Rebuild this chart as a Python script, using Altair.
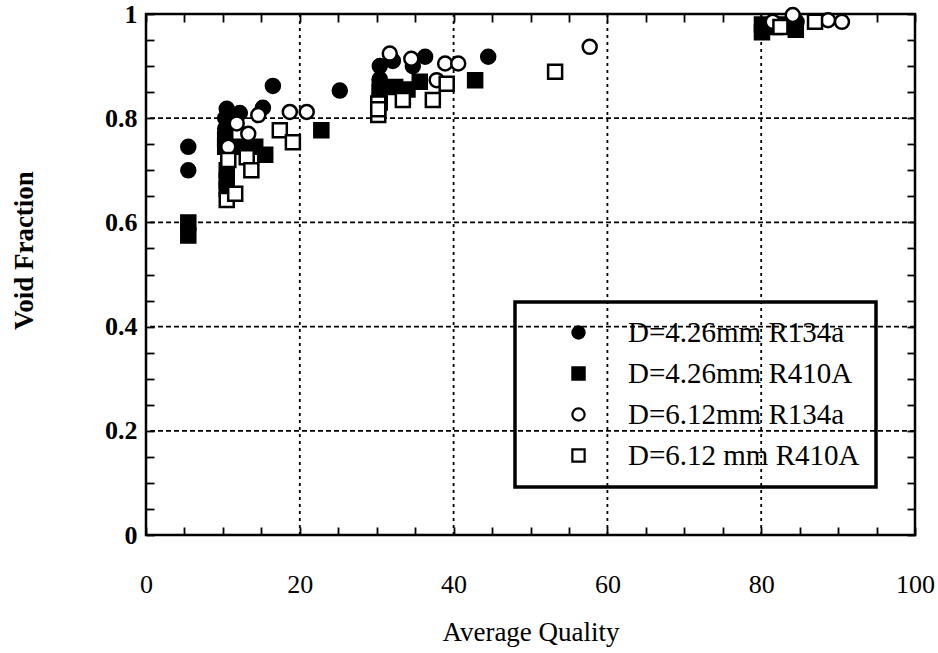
import altair as alt
import pandas as pd

labels = ["D=4.26mm R134a", "D=4.26mm R410A", "D=6.12mm R134a", "D=6.12 mm R410A"]

# D=4.26mm R134a (filled circles)
q1 = [5.5, 5.5, 10.5, 10.3, 10.3, 12.2, 15.2, 16.5, 25.2, 30.4, 30.4, 32.1, 34.7, 36.3, 44.5, 80.5, 82.0, 84.4, 84.6]
v1 = [0.745, 0.700, 0.818, 0.800, 0.780, 0.810, 0.820, 0.862, 0.853, 0.900, 0.875, 0.910, 0.900, 0.918, 0.918, 0.975, 0.980, 0.975, 0.985]
# D=4.26mm R410A (filled squares)
q2 = [5.5, 5.5, 10.3, 10.3, 10.5, 10.5, 10.5, 12.2, 14.2, 15.5, 22.8, 30.4, 30.4, 30.4, 32.4, 34.0, 35.6, 42.8, 80.1, 80.1, 81.8, 83.1, 84.5]
v2 = [0.600, 0.575, 0.760, 0.745, 0.700, 0.680, 0.665, 0.745, 0.745, 0.730, 0.777, 0.850, 0.830, 0.860, 0.860, 0.855, 0.870, 0.873, 0.965, 0.980, 0.975, 0.980, 0.970]
# D=6.12mm R134a (open circles)
q3 = [10.7, 11.8, 13.3, 14.6, 18.7, 20.9, 31.7, 34.5, 37.8, 38.9, 40.6, 57.7, 81.5, 84.1, 88.7, 90.5]
v3 = [0.745, 0.790, 0.770, 0.806, 0.812, 0.812, 0.924, 0.914, 0.873, 0.905, 0.905, 0.937, 0.985, 0.998, 0.988, 0.985]
# D=6.12 mm R410A (open squares)
q4 = [10.5, 10.7, 11.6, 13.1, 13.7, 17.4, 19.1, 30.2, 30.2, 30.2, 33.4, 37.3, 39.1, 53.2, 82.5, 87.0]
v4 = [0.643, 0.720, 0.655, 0.725, 0.700, 0.777, 0.754, 0.828, 0.806, 0.817, 0.835, 0.835, 0.866, 0.889, 0.975, 0.985]

x_grid = [20, 40, 60, 80]
y_grid = [0.2, 0.4, 0.6, 0.8]
x_ticks = list(range(0, 101, 5))
y_ticks = [round(i * 0.05, 2) for i in range(21)]

rows = []
for lab, qs, vs in zip(labels, [q1, q2, q3, q4], [v1, v2, v3, v4]):
    for q, v in zip(qs, vs):
        rows.append({"series": lab, "q": q, "v": v})
df = pd.DataFrame(rows)

FONT = "Liberation Serif"
x_scale = alt.Scale(domain=[0, 100], nice=False)
y_scale = alt.Scale(domain=[0, 1], nice=False)

common = dict(domain=False, grid=False, tickSize=8, offset=-8, tickColor="black",
              tickWidth=1.8, labelColor="black", titleColor="black",
              labelFont=FONT, titleFont=FONT, labelOverlap=False)

bottom_axis = alt.Axis(orient="bottom", values=x_ticks, title="Average Quality",
                       labelExpr="datum.value % 20 == 0 ? datum.label : ''",
                       labelFontSize=26, titleFontSize=27, labelPadding=36,
                       titlePadding=22, labelFlush=False,
                       labelFontWeight="normal", titleFontWeight="normal", **common)
left_axis = alt.Axis(orient="left", values=y_ticks, title="Void Fraction",
                     labelExpr="abs(datum.value*5 - round(datum.value*5)) < 0.001 ? format(datum.value, '~g') : ''",
                     labelFontSize=26, titleFontSize=27, labelPadding=9,
                     titlePadding=66, titleY=236,
                     labelFontWeight="bold", titleFontWeight="bold", **common)
top_axis = alt.Axis(orient="top", values=x_ticks, labels=False, title=None, **common)
right_axis = alt.Axis(orient="right", values=y_ticks, labels=False, title=None, **common)

legend = alt.Legend(orient="none", legendX=369, legendY=288, title=None,
                    direction="vertical", padding=16, rowPadding=11,
                    labelFont=FONT, labelFontSize=29, labelColor="black", labelLimit=0,
                    symbolSize=150, symbolStrokeWidth=2.2,
                    symbolOffset=33, labelOffset=35, strokeColor="black")

gx = alt.Chart(pd.DataFrame({"g": x_grid})).mark_rule(
    color="black", strokeWidth=1.8, strokeDash=[3, 4]
).encode(x=alt.X("g:Q", scale=x_scale, axis=None))

gy = alt.Chart(pd.DataFrame({"g": y_grid})).mark_rule(
    color="black", strokeWidth=1.8, strokeDash=[5, 3]
).encode(y=alt.Y("g:Q", scale=y_scale, axis=None))

points = alt.Chart(df).mark_point(
    filled=True, size=196, strokeWidth=2.5, opacity=1
).encode(
    x=alt.X("q:Q", scale=x_scale, axis=bottom_axis),
    y=alt.Y("v:Q", scale=y_scale, axis=left_axis),
    shape=alt.Shape("series:N", scale=alt.Scale(domain=labels, range=["circle", "square", "circle", "square"]), legend=legend),
    fill=alt.Fill("series:N", scale=alt.Scale(domain=labels, range=["black", "black", "white", "white"]), legend=legend),
    stroke=alt.Stroke("series:N", scale=alt.Scale(domain=labels, range=["black", "black", "black", "black"]), legend=legend),
)

frame = alt.Chart(df).mark_point(opacity=0).encode(
    x=alt.X("q:Q", scale=x_scale, axis=top_axis),
    y=alt.Y("v:Q", scale=y_scale, axis=right_axis),
)

chart = alt.layer(gx, gy, points, frame).resolve_axis(
    x="independent", y="independent"
).properties(
    width=769, height=521,
    autosize=alt.AutoSizeParams(type="none"),
    padding={"left": 146, "top": 14, "right": 23, "bottom": 118},
    background="white",
).configure(
    font=FONT
).configure_view(
    stroke="black", strokeWidth=2.5
).configure_legend(
    strokeColor="black", strokeWidth=3.5
)

chart.save("out.html", embed_options={"renderer": "svg", "actions": False})
